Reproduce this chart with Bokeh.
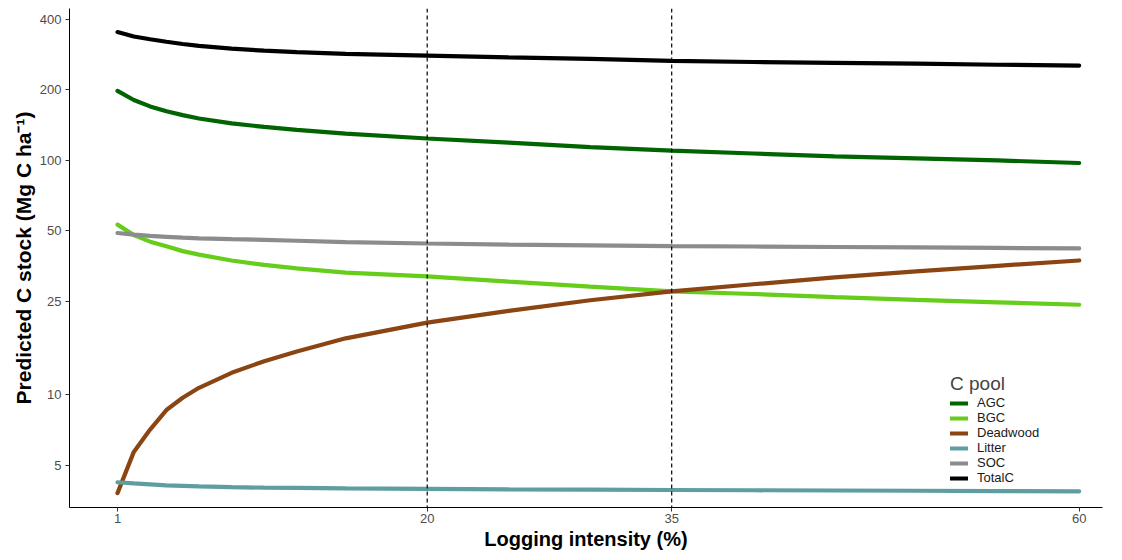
from bokeh.plotting import figure
from bokeh.models import Range1d, FixedTicker, Span, Legend, LegendItem
from bokeh.embed import file_html
from bokeh.resources import INLINE

# ---- data ----
intensity = [1, 2, 3, 4, 5, 6, 8, 10, 12, 15, 20, 25, 30, 35, 40, 45, 50, 55, 60]
agc      = [198, 181, 170, 162, 156, 151, 144, 139, 135, 130, 124, 119, 114, 110, 107, 104, 102, 100, 97.5]
bgc      = [53.2, 48.0, 45.0, 43.0, 41.0, 39.6, 37.4, 35.8, 34.6, 33.2, 32.0, 30.4, 28.9, 27.6, 26.9, 26.1, 25.4, 24.8, 24.2]
deadwood = [3.8, 5.7, 7.1, 8.6, 9.7, 10.7, 12.4, 13.9, 15.3, 17.4, 20.3, 22.8, 25.3, 27.6, 29.6, 31.7, 33.6, 35.5, 37.4]
litter   = [4.23, 4.18, 4.14, 4.10, 4.08, 4.06, 4.03, 4.01, 4.00, 3.98, 3.96, 3.94, 3.93, 3.92, 3.91, 3.90, 3.89, 3.88, 3.87]
soc      = [49.0, 48.2, 47.6, 47.2, 46.8, 46.5, 46.1, 45.8, 45.4, 44.8, 44.2, 43.7, 43.4, 43.1, 42.9, 42.7, 42.5, 42.3, 42.1]
totalc   = [353, 338, 329, 321, 314, 308, 300, 294, 290, 285, 280, 275, 271, 266, 263, 261, 259, 256, 254]

pools = ["AGC", "BGC", "Deadwood", "Litter", "SOC", "TotalC"]
series = [agc, bgc, deadwood, litter, soc, totalc]
colors = ["#006400", "#66CD1A", "#8B4513", "#5F9EA0", "#8C8C8C", "#000000"]

x_ticks = [1, 20, 35, 60]
y_ticks = [5, 10, 25, 50, 100, 200, 400]
ref_lines = [20, 35]

FONT = "Liberation Sans"

p = figure(width=1106, height=552, y_axis_type="log",
           x_range=Range1d(-1.945, 61.43), y_range=Range1d(3.30, 445),
           output_backend="svg", toolbar_location=None,
           min_border_left=69, min_border_right=4, min_border_top=8, min_border_bottom=44)
p.outline_line_color = None
p.grid.visible = False
p.background_fill_color = "white"

for v in ref_lines:
    p.add_layout(Span(location=v, dimension="height", line_color="black",
                      line_width=1.2, line_dash="4 3"))

renderers = []
for name, ys, c in zip(pools, series, colors):
    r = p.line(intensity, ys, line_color=c, line_width=4.2, line_cap="round")
    renderers.append((name, r))

# axes
p.xaxis.ticker = FixedTicker(ticks=x_ticks)
p.yaxis.ticker = FixedTicker(ticks=y_ticks)
p.yaxis.major_label_overrides = {t: str(t) for t in y_ticks}
p.xaxis.major_label_overrides = {t: str(t) for t in x_ticks}
for ax in (p.xaxis, p.yaxis):
    ax.minor_tick_line_color = None
    ax.axis_line_color = "black"
    ax.axis_line_width = 1
    ax.major_tick_line_color = "#333333"
    ax.major_tick_in = 0
    ax.major_tick_out = 4
    ax.major_label_text_font = FONT
    ax.major_label_text_font_size = "13px"
    ax.major_label_text_color = "#4D4D4D"
    ax.axis_label_text_font = FONT
    ax.axis_label_text_font_style = "bold"
    ax.axis_label_text_color = "black"
p.xaxis.axis_label_text_font_size = "20px"
p.yaxis.axis_label_text_font_size = "21px"
p.xaxis.axis_label = "Logging intensity (%)"
p.yaxis.axis_label = "Predicted C stock (Mg C ha\u207b\u00b9)"
p.xaxis.major_label_standoff = 2
p.xaxis.axis_label_standoff = 2
p.yaxis.major_label_standoff = 4
p.yaxis.axis_label_standoff = 2

legend = Legend(items=[LegendItem(label=n, renderers=[r]) for n, r in renderers],
                location=(881, 22), title="C pool",
                title_text_font=FONT, title_text_font_size="19px",
                title_text_font_style="normal", title_standoff=-8,
                label_text_font=FONT, label_text_font_size="13px",
                label_text_color="#1a1a1a",
                glyph_width=18, glyph_height=12, label_height=12,
                label_standoff=9, spacing=-1, padding=4, margin=0,
                border_line_color=None, background_fill_alpha=0)
p.add_layout(legend)

open("out.html", "w").write(file_html(p, INLINE))
